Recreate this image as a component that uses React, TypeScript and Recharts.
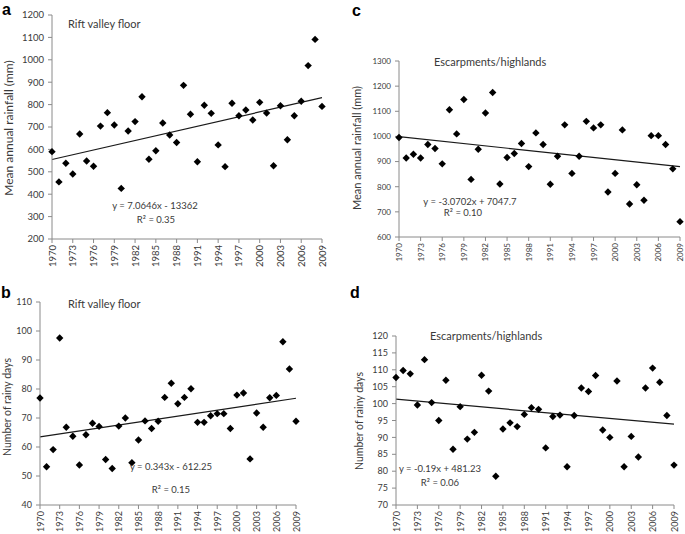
import React from "react";
import { ScatterChart, Scatter, XAxis, YAxis, ReferenceLine } from "recharts";

const YEARS = [
  1970, 1971, 1972, 1973, 1974, 1975, 1976, 1977, 1978, 1979,
  1980, 1981, 1982, 1983, 1984, 1985, 1986, 1987, 1988, 1989,
  1990, 1991, 1992, 1993, 1994, 1995, 1996, 1997, 1998, 1999,
  2000, 2001, 2002, 2003, 2004, 2005, 2006, 2007, 2008, 2009,
];
const YEAR_TICKS = [1970, 1973, 1976, 1979, 1982, 1985, 1988, 1991, 1994, 1997, 2000, 2003, 2006, 2009];

// a: mean annual rainfall, rift valley floor (mm)
const RAINFALL_RIFT = [
  590, 455, 538, 490, 669, 548, 525, 704, 764, 709,
  426, 682, 724, 835, 556, 594, 718, 664, 631, 886,
  757, 545, 797, 761, 620, 523, 806, 750, 776, 731,
  810, 762, 527, 795, 643, 750, 815, 974, 1091, 792,
];
// b: number of rainy days, rift valley floor
const RAINY_DAYS_RIFT = [
  76.9, 53.2, 59.1, 97.6, 66.8, 63.7, 53.8, 64.2, 68.2, 67.1,
  55.7, 52.6, 67.2, 70.0, 54.6, 62.4, 69.0, 66.4, 68.9, 77.1,
  82.0, 74.9, 77.1, 80.1, 68.5, 68.5, 70.8, 71.5, 71.5, 66.4,
  77.9, 78.6, 55.9, 71.7, 66.8, 77.0, 77.8, 96.3, 86.9, 68.9,
];
// c: mean annual rainfall, escarpments/highlands (mm)
const RAINFALL_ESC = [
  996, 914, 929, 914, 968, 952, 891, 1106, 1010, 1147,
  829, 949, 1093, 1175, 811, 916, 932, 972, 880, 1014,
  968, 810, 921, 1046, 853, 921, 1060, 1034, 1046, 779,
  853, 1026, 731, 808, 746, 1003, 1003, 968, 871, 661,
];
// d: number of rainy days, escarpments/highlands
const RAINY_DAYS_ESC = [
  107.7, 109.8, 108.8, 99.6, 113.0, 100.3, 95.0, 106.9, 86.5, 99.1,
  89.5, 91.5, 108.4, 103.7, 78.5, 92.5, 94.3, 93.2, 96.8, 98.8,
  98.3, 86.9, 96.2, 96.6, 81.3, 96.5, 104.6, 103.6, 108.3, 92.2,
  90.0, 106.7, 81.3, 90.3, 84.2, 104.6, 110.5, 106.3, 96.5, 81.8,
];

// linear trend read at 1970 and 2009
const TREND_RAINFALL_RIFT = [555, 831];
const TREND_RAINY_RIFT = [63.5, 76.8];
const TREND_RAINFALL_ESC = [999, 880];
const TREND_RAINY_ESC = [101.3, 93.9];

const FONT = "Lato, 'Open Sans', sans-serif";
const TEXT = "#3a3a3a";
const AXIS = "#8a8a8a";

const Diamond = (props: any) => {
  const { cx, cy } = props;
  const r = 3.7;
  return <path d={`M${cx},${cy - r}L${cx + r},${cy}L${cx},${cy + r}L${cx - r},${cy}Z`} fill="#000" />;
};

const YearTick = (props: any) => {
  const { x, y, payload, fontSize } = props;
  return (
    <text
      x={x}
      y={y}
      transform={`rotate(-90, ${x}, ${y})`}
      textAnchor="end"
      dominantBaseline="central"
      fontSize={fontSize}
      fill={TEXT}
      fontFamily={FONT}
    >
      {payload.value}
    </text>
  );
};

const panels = [
  {
    left: 0, top: 0, width: 340, height: 270,
    margin: { top: 15, right: 18, bottom: 3, left: 12 }, yWidth: 40,
    domain: [200, 1200], yTicks: [200, 300, 400, 500, 600, 700, 800, 900, 1000, 1100, 1200],
    values: RAINFALL_RIFT, trend: TREND_RAINFALL_RIFT, font: 9.5,
  },
  {
    left: 0, top: 270, width: 340, height: 264,
    margin: { top: 32, right: 44, bottom: 1, left: 10 }, yWidth: 30,
    domain: [40, 110], yTicks: [40, 50, 60, 70, 80, 90, 100, 110],
    values: RAINY_DAYS_RIFT, trend: TREND_RAINY_RIFT, font: 9,
  },
  {
    left: 340, top: 0, width: 345, height: 270,
    margin: { top: 61, right: 5, bottom: 5, left: 19 }, yWidth: 40,
    domain: [600, 1300], yTicks: [600, 700, 800, 900, 1000, 1100, 1200, 1300],
    values: RAINFALL_ESC, trend: TREND_RAINFALL_ESC, font: 8,
  },
  {
    left: 340, top: 270, width: 345, height: 264,
    margin: { top: 66, right: 11, bottom: 1, left: 16 }, yWidth: 40,
    domain: [70, 120], yTicks: [70, 75, 80, 85, 90, 95, 100, 105, 110, 115, 120],
    values: RAINY_DAYS_ESC, trend: TREND_RAINY_ESC, font: 9,
  },
];

function Panel({ p }: { p: any }) {
  const data = YEARS.map((x, i) => ({ x, y: p.values[i] }));
  return (
    <div style={{ position: "absolute", left: p.left, top: p.top }}>
      <ScatterChart width={p.width} height={p.height} margin={p.margin}>
        <XAxis
          type="number"
          dataKey="x"
          domain={[1970, 2009]}
          ticks={YEAR_TICKS}
          interval={0}
          height={28}
          tickSize={4}
          tickMargin={2}
          stroke={AXIS}
          tick={(t: any) => <YearTick {...t} fontSize={p.font} />}
        />
        <YAxis
          type="number"
          dataKey="y"
          domain={p.domain}
          ticks={p.yTicks}
          interval={0}
          width={p.yWidth}
          tickSize={4}
          tickMargin={4}
          stroke={AXIS}
          tick={{ fontSize: p.font, fill: TEXT, fontFamily: FONT }}
        />
        <ReferenceLine
          segment={[
            { x: 1970, y: p.trend[0] },
            { x: 2009, y: p.trend[1] },
          ]}
          stroke="#1a1a1a"
          strokeWidth={1.2}
        />
        <Scatter data={data} fill="#000" shape={Diamond} isAnimationActive={false} />
      </ScatterChart>
    </div>
  );
}

export default function App() {
  return (
    <div style={{ position: "absolute", left: 0, top: 0, width: 685, height: 534, background: "#fff", overflow: "hidden" }}>
      {panels.map((p, i) => (
        <Panel key={i} p={p} />
      ))}
      <svg width={685} height={534} style={{ position: "absolute", left: 0, top: 0, pointerEvents: "none" }}>
        <g fontFamily="'Liberation Sans', Arial, sans-serif" fontWeight="bold" fontSize={16} fill="#000">
          <text x={2} y={15}>a</text>
          <text x={1} y={298}>b</text>
          <text x={352} y={16}>c</text>
          <text x={350} y={298}>d</text>
        </g>
        <g fontFamily={FONT} fill={TEXT}>
          <text x={68} y={27.5} fontSize={11}>Rift valley floor</text>
          <text x={68} y={307.5} fontSize={11}>Rift valley floor</text>
          <text x={434} y={66} fontSize={11}>Escarpments/highlands</text>
          <text x={430} y={340} fontSize={11}>Escarpments/highlands</text>

          <text x={155} y={209} fontSize={9.5} textAnchor="middle">y = 7.0646x - 13362</text>
          <text x={156} y={223} fontSize={9.5} textAnchor="middle">R² = 0.35</text>
          <text x={171} y={470} fontSize={9.5} textAnchor="middle">y = 0.343x - 612.25</text>
          <text x={171} y={493} fontSize={9.5} textAnchor="middle">R² = 0.15</text>
          <text x={470} y={205} fontSize={9.5} textAnchor="middle">y = -3.0702x + 7047.7</text>
          <text x={463} y={216} fontSize={9.5} textAnchor="middle">R² = 0.10</text>
          <text x={440} y={472} fontSize={9.5} textAnchor="middle">y = -0.19x + 481.23</text>
          <text x={440} y={486} fontSize={9.5} textAnchor="middle">R² = 0.06</text>

          <text transform="translate(8,128) rotate(-90)" fontSize={12} textAnchor="middle" dominantBaseline="central">Mean annual rainfall (mm)</text>
          <text transform="translate(7,407) rotate(-90)" fontSize={10.5} textAnchor="middle" dominantBaseline="central">Number of rainy days</text>
          <text transform="translate(356,148) rotate(-90)" fontSize={11} textAnchor="middle" dominantBaseline="central">Mean annual rainfall (mm)</text>
          <text transform="translate(359,421) rotate(-90)" fontSize={10.5} textAnchor="middle" dominantBaseline="central">Number of rainy days</text>
        </g>
      </svg>
    </div>
  );
}
